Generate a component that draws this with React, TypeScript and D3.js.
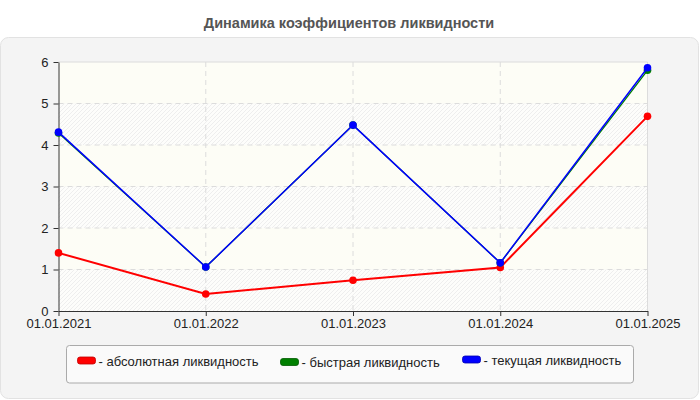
import { useEffect, useRef } from 'react';
import * as d3 from 'd3';

const dates = ['01.01.2021', '01.01.2022', '01.01.2023', '01.01.2024', '01.01.2025'];
const absolute = [1.4, 0.41, 0.74, 1.05, 4.69];
const quick = [4.29, 1.06, 4.48, 1.16, 5.8];
const current = [4.31, 1.06, 4.48, 1.16, 5.86];
const yTicks = [0, 1, 2, 3, 4, 5, 6];

const series = [
  { name: '- абсолютная ликвидность', values: absolute, color: '#ff0000', stroke: '#c00000', width: 2, lx: 77.5, ly: 357 },
  { name: '- быстрая ликвидность', values: quick, color: '#008000', stroke: '#005a00', width: 1.3, lx: 280.5, ly: 358.5 },
  { name: '- текущая ликвидность', values: current, color: '#0000ff', stroke: '#0000b0', width: 1.5, lx: 462.5, ly: 356 },
];

export default function App() {
  const ref = useRef<SVGSVGElement | null>(null);
  useEffect(() => {
    const svg = d3.select(ref.current!);
    svg.selectAll('*').remove();
    const font = 'Liberation Sans, Arial, sans-serif';
    const left = 58.5, right = 647.5, top = 62, bottom = 311;

    const defs = svg.append('defs');
    const pat = defs.append('pattern').attr('id', 'hatch').attr('patternUnits', 'userSpaceOnUse')
      .attr('width', 4).attr('height', 4);
    pat.append('rect').attr('width', 4).attr('height', 4).attr('fill', '#fdfdfb');
    pat.append('path').attr('d', 'M-1,1 l2,-2 M0,4 l4,-4 M3,5 l2,-2').attr('stroke', '#eeeeee').attr('stroke-width', 1);

    // title + panel
    svg.append('text').attr('x', 349).attr('y', 28).attr('text-anchor', 'middle')
      .attr('font-family', font).attr('font-weight', 'bold').attr('font-size', 14.5).attr('fill', '#555')
      .text('Динамика коэффициентов ликвидности');
    svg.append('rect').attr('x', 0.5).attr('y', 37.5).attr('width', 698).attr('height', 361).attr('rx', 8)
      .attr('fill', '#f4f4f4').attr('stroke', '#e2e2e2');

    const x = d3.scalePoint<string>().domain(dates).range([left, right]);
    const y = d3.scaleLinear().domain([0, 6]).range([bottom, top]);

    // alternating bands
    const g = svg.append('g');
    d3.range(6).forEach((i) => {
      g.append('rect').attr('x', left).attr('width', right - left)
        .attr('y', y(i + 1)).attr('height', y(i) - y(i + 1))
        .attr('fill', i % 2 === 0 ? 'url(#hatch)' : '#fdfdf6');
    });

    // grid
    g.selectAll('.hg').data(yTicks.slice(1, -1)).enter().append('line')
      .attr('x1', left).attr('x2', right).attr('y1', (d) => y(d)).attr('y2', (d) => y(d))
      .attr('stroke', '#dcdcdc').attr('stroke-dasharray', '5,4');
    g.selectAll('.vg').data(dates.slice(1, -1)).enter().append('line')
      .attr('y1', top).attr('y2', bottom).attr('x1', (d) => x(d)!).attr('x2', (d) => x(d)!)
      .attr('stroke', '#dcdcdc').attr('stroke-dasharray', '5,4');
    g.append('path').attr('d', `M${left},${top}H${right}V${bottom}`).attr('fill', 'none').attr('stroke', '#dcdcdc');

    // axes
    const ya = svg.append('g').attr('transform', `translate(${left},0)`)
      .call(d3.axisLeft(y).tickValues(yTicks).tickFormat(d3.format('d')).tickSize(5).tickPadding(5).tickSizeOuter(0));
    const xa = svg.append('g').attr('transform', `translate(0,${bottom})`)
      .call(d3.axisBottom(x).tickSize(5).tickPadding(3).tickSizeOuter(0));
    [ya, xa].forEach((a) => {
      a.select('.domain').attr('stroke', '#333');
      a.selectAll('line').attr('stroke', '#333');
      a.selectAll('text').attr('font-size', 13).attr('fill', '#222').attr('font-family', font);
    });

    // lines
    const line = d3.line<number>().x((_, i) => x(dates[i])!).y((d) => y(d));
    series.forEach((s) => {
      svg.append('path').datum(s.values).attr('d', line).attr('fill', 'none')
        .attr('stroke', s.color).attr('stroke-width', s.width);
      svg.append('g').selectAll('circle').data(s.values).enter().append('circle')
        .attr('cx', (_, i) => x(dates[i])!).attr('cy', (d) => y(d)).attr('r', 3.8).attr('fill', s.color);
    });

    // legend
    svg.append('rect').attr('x', 66.5).attr('y', 345.5).attr('width', 567).attr('height', 37.5).attr('rx', 3)
      .attr('fill', '#fafafa').attr('stroke', '#aaa');
    series.forEach((s) => {
      svg.append('rect').attr('x', s.lx).attr('y', s.ly).attr('width', 18).attr('height', 7).attr('rx', 2.5)
        .attr('fill', s.color).attr('stroke', s.stroke).attr('stroke-width', 0.8);
      svg.append('text').attr('x', s.lx + 21).attr('y', s.ly + 8.5).attr('font-family', font)
        .attr('font-size', 13).attr('fill', '#222').text(s.name);
    });
  }, []);
  return <svg ref={ref} width={700} height={400} style={{ position: 'absolute', left: 0, top: 0 }} />;
}
